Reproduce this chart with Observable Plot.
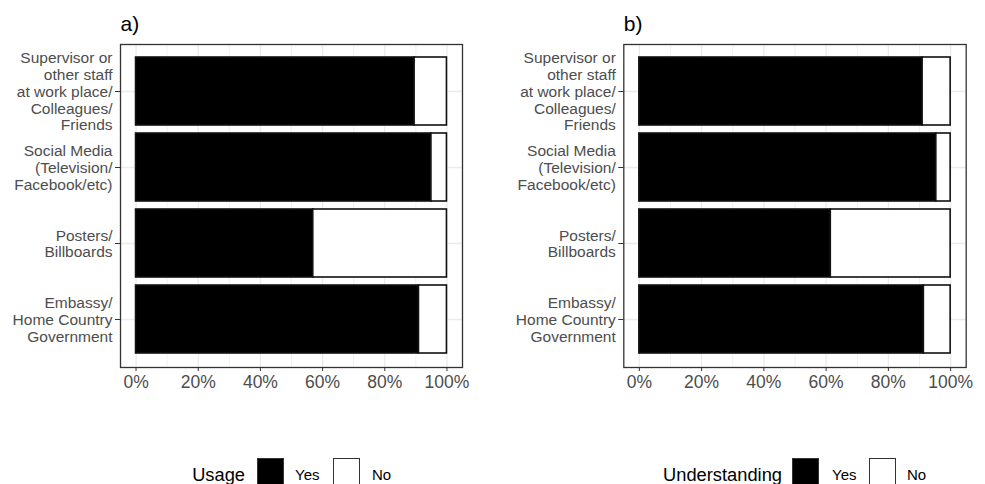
<!DOCTYPE html>
<html>
<head>
<meta charset="utf-8">
<script src="https://cdn.jsdelivr.net/npm/d3@7"></script>
<script src="https://cdn.jsdelivr.net/npm/@observablehq/plot@0.6"></script>
<style>
  html, body { margin: 0; padding: 0; background: #fff; overflow: hidden; }
  #root { position: relative; width: 985px; height: 484px; font-family: "Liberation Sans", Arial, sans-serif; }
  .panel { position: absolute; top: 0; }
  .lg { position: absolute; font-family: "Liberation Sans", Arial, sans-serif; color: #000; white-space: nowrap; }
  .sq { position: absolute; width: 27px; height: 27px; box-sizing: border-box; border: 1.5px solid #333; }
</style>
</head>
<body>
<div id="root"></div>
<script>
// ---- data ----
const categories = [
  "Supervisor or other staff at work place/ Colleagues/ Friends",
  "Social Media (Television/ Facebook/etc)",
  "Posters/ Billboards",
  "Embassy/ Home Country Government"
];
const categoryLabels = [
  "Supervisor or\nother staff\nat work place/\nColleagues/\nFriends",
  "Social Media\n(Television/\nFacebook/etc)",
  "Posters/\nBillboards",
  "Embassy/\nHome Country\nGovernment"
];
const responses = ["Yes", "No"];
const usageYes = [0.896, 0.950, 0.570, 0.910];
const usageNo  = [0.104, 0.050, 0.430, 0.090];
const understandingYes = [0.910, 0.954, 0.615, 0.914];
const understandingNo  = [0.090, 0.046, 0.385, 0.086];
const xTicks = [0, 0.2, 0.4, 0.6, 0.8, 1];
const xMinorTicks = [0.1, 0.3, 0.5, 0.7, 0.9];
const panelTitles = ["a)", "b)"];
const legendTitles = ["Usage", "Understanding"];

function rows(yes, no) {
  const r = [];
  categories.forEach((c, i) => r.push({cat: c, resp: "Yes", value: yes[i]}));
  categories.forEach((c, i) => r.push({cat: c, resp: "No", value: no[i]}));
  return r;
}
const labelOf = new Map(categories.map((c, i) => [c, categoryLabels[i]]));

function panel(data, title, marginLeft, marginRight) {
  return Plot.plot({
    width: 492,
    height: 400,
    marginLeft, marginRight,
    marginTop: 44,
    marginBottom: 33,
    style: {fontFamily: '"Liberation Sans", Arial, sans-serif', background: "transparent", overflow: "visible"},
    x: {domain: [-0.05, 1.05]},
    y: {domain: categories, paddingInner: 0.1, paddingOuter: 0.15},
    color: {domain: responses, range: ["#000000", "#ffffff"]},
    marks: [
      Plot.gridX(xMinorTicks, {stroke: "#ebebeb", strokeOpacity: 1, strokeWidth: 0.7}),
      Plot.gridX(xTicks, {stroke: "#ebebeb", strokeOpacity: 1, strokeWidth: 1.3}),
      Plot.gridY({stroke: "#ebebeb", strokeOpacity: 1, strokeWidth: 1.3}),
      Plot.barX(data, Plot.stackX({x: "value", y: "cat", fill: "resp", stroke: "#111", strokeWidth: 1.6, order: null})),
      Plot.frame({stroke: "#333", strokeWidth: 1.3}),
      Plot.axisX(xTicks, {tickFormat: d3.format(".0%"), tickSize: 4, tickPadding: 4, fontSize: 17.5, stroke: "#333", fill: "#4d4d4d", label: null}),
      Plot.axisY({tickFormat: d => labelOf.get(d), tickSize: 5, tickPadding: 3, fontSize: 15.5, lineHeight: 1.08, stroke: "#333", fill: "#4d4d4d", label: null}),
      Plot.text([title], {frameAnchor: "top-left", text: d => d, dy: -20, lineAnchor: "middle", fontSize: 21, fill: "#000", textAnchor: "start"})
    ]
  });
}

const root = document.getElementById("root");
const pa = panel(rows(usageYes, usageNo), panelTitles[0], 120, 30);
pa.classList.add("panel"); pa.style.left = "0px";
root.appendChild(pa);
const pb = panel(rows(understandingYes, understandingNo), panelTitles[1], 130.3, 19.3);
pb.classList.add("panel"); pb.style.left = "493px";
root.appendChild(pb);

// ---- legends ----
function legend(title, titleRight, blackLeft, yesLeft, whiteLeft, noLeft) {
  const t = document.createElement("div");
  t.className = "lg"; t.textContent = title;
  t.style.fontSize = "18.3px"; t.style.right = (985 - titleRight) + "px"; t.style.top = "464px";
  root.appendChild(t);
  const b = document.createElement("div");
  b.className = "sq"; b.style.background = "#000"; b.style.left = blackLeft + "px"; b.style.top = "458px";
  root.appendChild(b);
  const y = document.createElement("div");
  y.className = "lg"; y.textContent = responses[0]; y.style.fontSize = "15px";
  y.style.left = yesLeft + "px"; y.style.top = "466px";
  root.appendChild(y);
  const w = document.createElement("div");
  w.className = "sq"; w.style.background = "#fff"; w.style.left = whiteLeft + "px"; w.style.top = "458px";
  root.appendChild(w);
  const n = document.createElement("div");
  n.className = "lg"; n.textContent = responses[1]; n.style.fontSize = "15px";
  n.style.left = noLeft + "px"; n.style.top = "466px";
  root.appendChild(n);
}
legend(legendTitles[0], 245, 257, 295, 333, 372);
legend(legendTitles[1], 782, 792, 832, 869, 907);
</script>
</body>
</html>
